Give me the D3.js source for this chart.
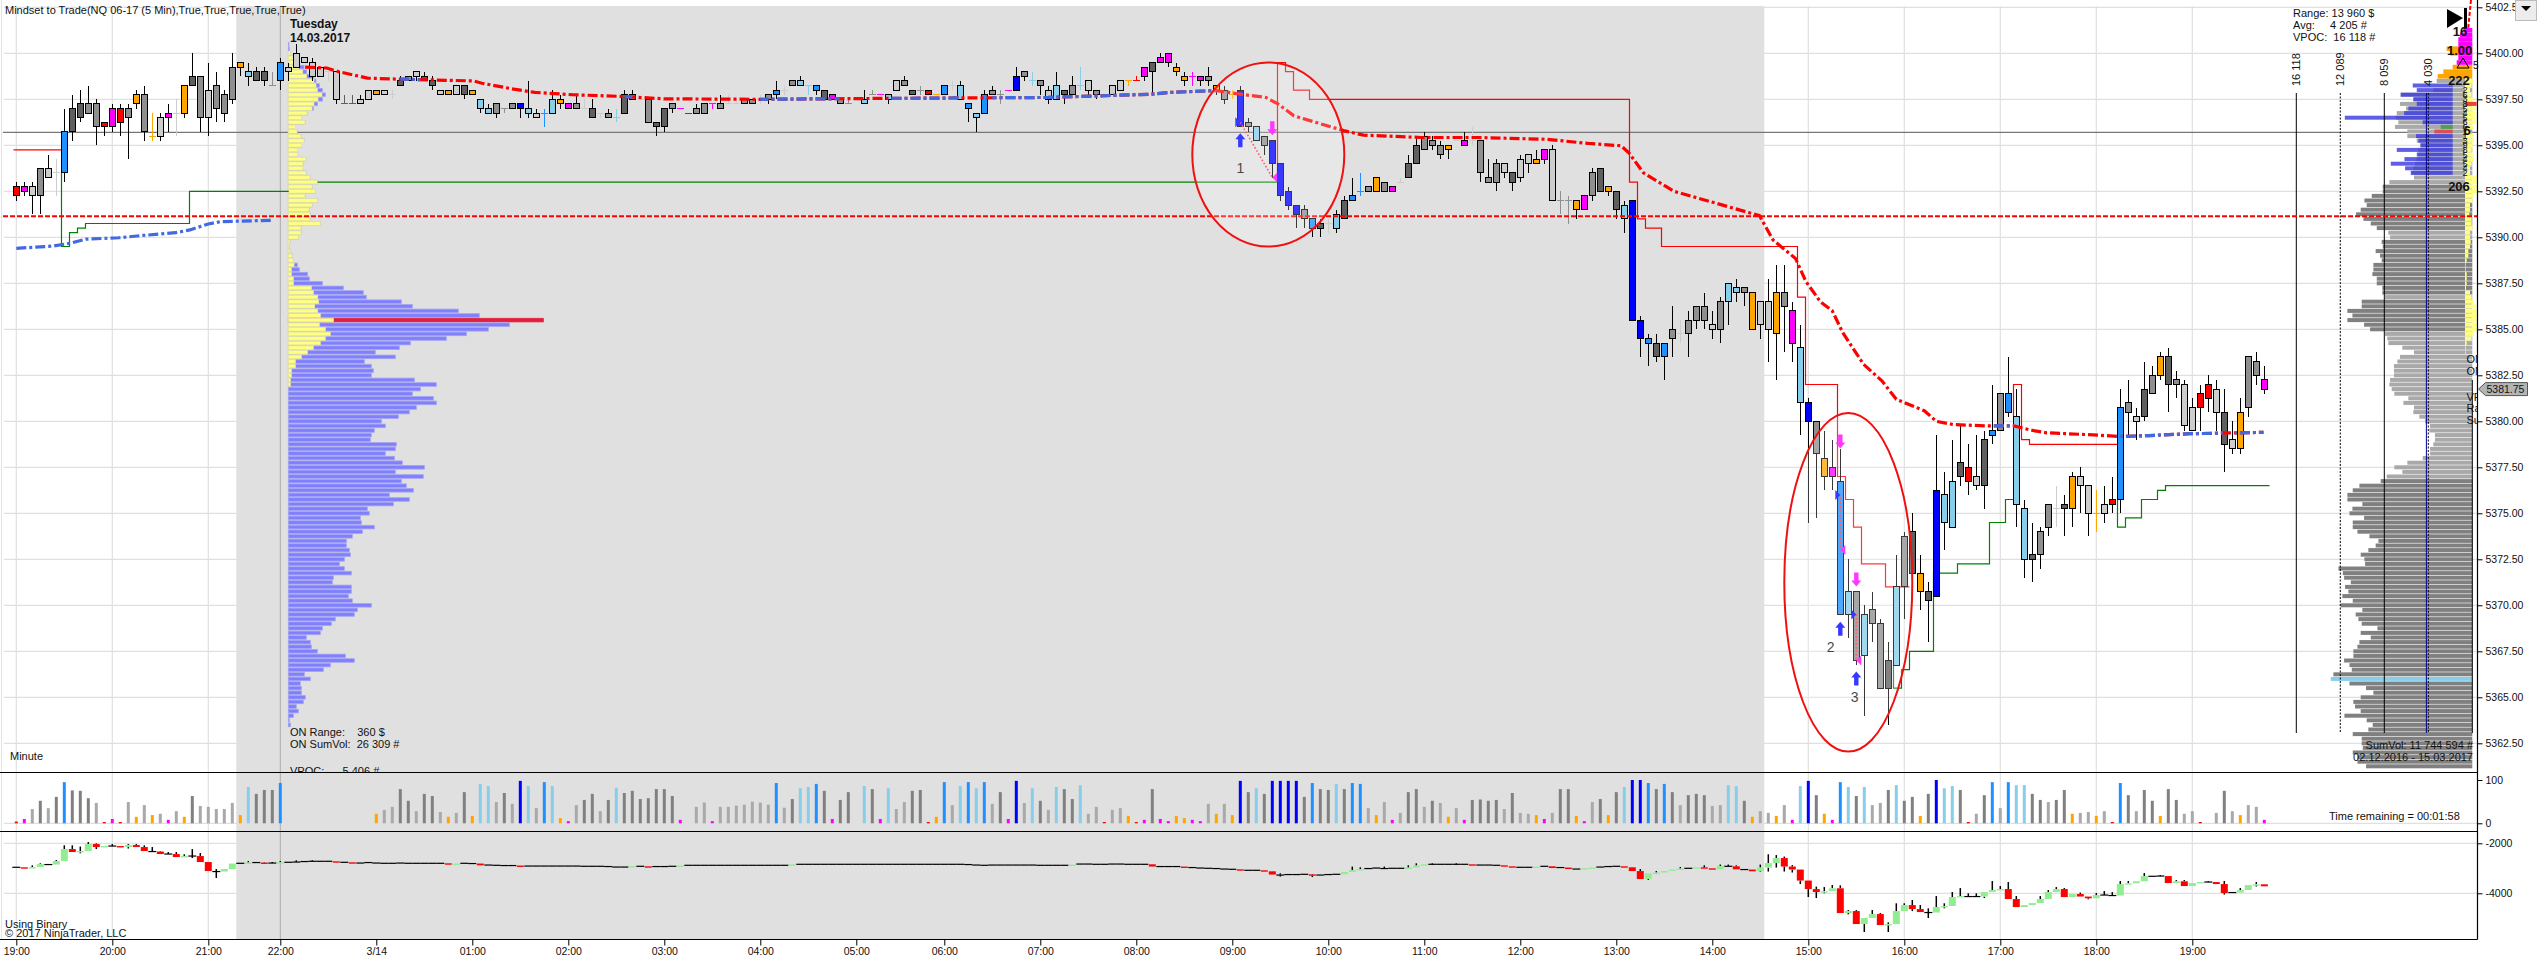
<!DOCTYPE html>
<html>
<head>
<meta charset="utf-8">
<title>Mindset to Trade</title>
<script src="https://cdn.jsdelivr.net/npm/d3@7"></script>
<style>
  body { margin: 0; background: #fff; overflow: hidden; }
  svg { display: block; }
  text { font-family: "Liberation Sans", Arial, sans-serif; font-size: 10.5px; fill: #111; white-space: pre; }
  .axis path, .axis line { stroke: #000; }
  .axis .domain { display: none; }
</style>
</head>
<body>
<svg id="chart" width="2537" height="962"></svg>
<script>
// all prices are kept as ticks below REF_PRICE
const REF_PRICE = 5400;
const TICK_SIZE = 0.25;

// candles, one value per 5 min bar. classes: B blue, D dodger, S sky, O orange, M magenta, R red, K/G/L greys
const candleClass = ("RMLGLLDKKG GRMRGOGOLM LOKGLGGGOS KKGDLLLLLL LKKLLOLLKG LKKLOLKOSS GGGBSLDSOM GLKLGSKGLG " +
  "KKGMRGGMGL LGGLGDLGSS DKMGGGSGMS LGKGRODLSD SDGGMBGSGL SKGSLGOLLO RMKMMOOMMG OGOBGSGBBB " +
  "BGDKLSKDDG OGMLKKGGGO LMLGGGLKLL OMLGGOMGKO KSBBDKDGLG GGLGSSGOLL OGMSBGOMDS GSGGKSGKOK " +
  "BSSKRLKDGD SSKGGLKOLL OLRDGLKGOK GLLRRLKLOG GM").replace(/ /g, "").split("");
const candleTop = [
  29,29,29,25,25,26,17,12,11,11, 11,15,12,12,12,9,9,18,14,13, 13,7,5,5,8,7,9,3,2,4,
  4,4,7,2,3,0,1,2,3,4, 4,11,11,10,8,8,8,9,6,5, 4,5,6,8,8,7,7,8,10,12,
  11,12,11,11,12,13,13,10,10,11, 11,12,12,13,13,14,9,9,10,10, 15,12,11,12,13,12,11,11,11,11,
  11,10,10,10,9,8,8,6,6,7, 7,8,9,10,11,10,10,9,9,9, 6,6,8,8,8,9,7,7,7,11,
  13,9,8,9,8,5,4,6,6,8, 7,8,7,7,6,8,9,7,6,6, 6,3,2,1,0,3,5,5,5,5,
  7,8,9,8,15,16,18,19,24,30, 33,34,36,37,37,35,32,31,30,29, 27,28,29,28,24,20,18,19,20,20,
  19,19,19,19,27,24,24,26,23,22, 23,21,21,32,32,32,31,26,25,29, 30,33,32,58,62,63,63,60,61,58,
  55,55,59,54,50,51,51,52,54,54, 52,52,56,64,76,80,88,90,93,117, 117,122,121,124,132,116,105,104,113,117,
  95,96,93,89,90,92,84,82,74,74, 79,99,109,104,98,99,98,92,92,94, 100,98,97,77,76,79,73,70,66,66,
  71,72,77,74,72,73,78,84,78,66, 67,71];
const candleBottom = [
  31,30,31,31,27,26,26,17,14,13, 16,16,16,15,14,11,17,18,18,14, 13,13,7,14,14,12,13,10,3,5,
  6,6,7,6,4,3,2,5,5,4, 10,11,11,11,10,9,9,9,7,6, 5,6,7,9,9,9,9,9,12,13,
  13,12,12,12,13,14,13,13,11,12, 12,12,14,13,14,14,13,10,10,15, 16,16,12,12,13,13,13,11,12,11,
  11,11,11,10,10,9,8,7,7,7, 8,10,10,11,11,10,11,9,9,10, 8,7,9,8,9,9,9,7,10,12,
  14,13,9,9,8,8,5,6,7,10, 10,9,9,7,8,9,9,9,8,6, 6,5,4,2,2,4,6,5,6,6,
  8,10,9,16,16,19,20,24,31,33, 35,36,38,38,37,38,36,32,30,30, 30,30,30,28,27,24,21,20,22,21,
  19,20,19,26,28,28,26,28,27,24, 24,23,32,32,32,34,34,31,30,30, 34,36,58,62,63,66,66,62,61,61,
  58,58,60,60,54,52,52,60,59,60, 61,55,63,76,80,87,92,92,122,122, 132,131,124,138,138,133,116,113,117,119,
  118,102,103,92,93,94,94,83,82,78, 98,110,110,109,103,99,99,99,94,100, 100,100,98,97,78,80,79,74,70,72,
  72,81,82,77,75,78,85,86,86,77, 70,73];
const candleHigh = [
  28,28,28,25,22,23,12,9,8,7, 10,15,11,11,11,8,7,13,13,11, 10,7,0,5,2,4,8,0,2,2,
  3,3,4,1,2,-2,1,1,3,4, 4,9,9,9,8,8,8,8,5,5, 4,4,5,8,8,7,7,8,10,11,
  11,12,11,11,6,12,12,8,9,11, 9,10,10,13,12,12,8,8,10,10, 15,12,11,12,13,11,11,11,9,9,
  10,10,10,9,9,6,7,6,5,7, 7,8,9,10,10,10,8,8,9,9, 6,5,8,7,8,9,7,6,6,11,
  13,8,7,8,8,3,4,4,6,7, 4,8,5,3,6,8,9,7,6,6, 5,3,2,0,0,2,4,4,5,3,
  7,7,8,7,14,16,18,19,24,29, 33,33,36,36,36,34,31,27,26,29, 27,28,29,27,22,18,17,18,19,20,
  19,17,16,19,23,23,24,26,22,22, 21,21,20,30,31,32,31,25,25,29, 30,32,32,57,61,61,63,55,58,56,
  55,52,56,53,50,49,51,52,54,49, 46,46,54,59,75,80,82,84,86,110, 117,120,117,123,128,109,104,100,109,115,
  83,91,84,81,85,83,82,72,74,66, 73,97,102,103,98,94,96,91,90,94, 95,94,92,73,71,77,67,68,65,64,
  69,71,75,72,70,71,73,80,75,66, 65,68];
const candleLow = [
  32,31,35,35,27,31,28,19,15,13, 20,18,17,18,23,12,19,19,19,17, 18,14,7,17,18,15,15,11,5,7,
  6,7,7,8,6,3,2,6,5,6, 11,11,11,11,10,9,9,10,7,6, 6,6,8,9,9,9,10,9,13,13,
  14,13,12,14,14,14,16,13,12,12, 12,12,14,14,14,15,13,10,10,15, 18,17,13,12,13,13,13,12,12,11,
  11,11,11,11,11,10,9,7,7,9, 9,10,10,11,11,10,11,9,9,11, 8,7,9,9,9,9,9,8,10,15,
  17,13,9,11,8,8,6,7,9,11, 10,11,9,8,9,10,9,9,8,7, 6,6,9,2,3,5,7,7,7,7,
  9,11,10,16,17,19,22,27,32,34, 38,38,40,40,39,39,36,32,31,30, 30,30,30,28,27,24,21,21,23,23,
  19,20,20,28,28,30,27,30,28,26, 24,24,32,35,37,36,34,32,30,31, 36,39,58,66,68,67,71,66,63,66,
  60,60,62,63,59,54,55,60,62,67, 71,65,67,83,102,101,95,95,122,127, 133,144,128,138,146,133,123,113,121,128,
  118,108,103,94,96,95,99,85,82,79, 103,114,115,112,105,103,105,103,100,105, 104,102,100,100,83,84,80,74,71,78,
  75,82,82,82,78,82,91,87,87,79, 72,74];

// volume panel, same bars ("-" = no bar)
const volumeClass = ("RMLKLKDKKK LRMRLOLOLM LOKLLLLLOS KKKD------ -----OLLKK LKKLOLKOSS LKLBSLDSOM LKKLKSKKKK " +
  "KKKM-LLMLL LLLLLDLKSS DKMKK-SKMS LLKKRODLSD SDLKMBLSKL SKKSLLRLLO RMKMMOOMML OLOBKSKBBB " +
  "BKDKKSKDDL OLMLKKLKLO LMKKKKLKLL OMLKKOMLKO KSBBDKDKLK KKLLSSKOLL OLMSBKOMDS KSLLKSKKOK " +
  "BSSKRLKDLD SSKKLKKOLL OLRDKLKKOK KLLR-LKLOL LM").replace(/ /g, "").split("");
const volumeValues = [
  4,10,33,52,35,61,95,76,75,58, 47,3,10,3,49,15,42,19,22,8, 28,15,63,40,38,33,33,47,19,84,
  68,77,77,93,0,0,0,0,0,0, 0,0,0,0,0,22,31,38,79,52, 28,68,63,26,15,24,72,17,91,86,
  49,70,45,98,86,35,95,86,12,5, 42,54,68,28,54,82,70,75,56,58, 79,79,63,8,0,38,48,5,38,38,
  41,43,50,48,43,93,36,56,81,84, 91,75,10,54,72,0,86,79,10,81, 33,49,75,77,3,15,95,42,86,95,
  81,95,45,72,10,98,47,81,52,31, 84,79,56,88,22,38,3,31,35,17, 3,8,79,10,5,17,12,8,5,45,
  22,45,19,98,72,81,68,98,98,98, 98,61,93,79,77,91,79,93,91,35, 19,49,8,24,72,79,38,52,47,15,
  35,8,54,55,52,54,33,70,24,22, 19,10,24,79,79,17,5,49,56,19, 72,84,100,100,93,79,91,72,42,65,
  68,65,40,42,88,86,52,15,28,24, 17,42,8,86,98,65,22,8,95,84, 63,84,42,47,77,88,52,61,17,68,
  100,81,86,77,3,22,65,95,35,95, 88,88,68,54,49,54,77,22,24,26, 17,28,3,93,65,28,77,52,17,79,
  54,22,28,3,0,24,75,28,19,42, 38,8];

// binary panel: each bar opens on the close before it
const binaryClose = [
  -2960,-3010,-2950,-2830,-2850,-2710,-2230,-2350,-2310,-2030, -2150,-2110,-2110,-2150,-2070,-2150,-2310,-2330,-2430,-2430,
  -2550,-2510,-2510,-2750,-3110,-3130,-3030,-2810,-2800,-2770, -2770,-2800,-2790,-2760,-2760,-2750,-2730,-2720,-2720,-2720,
  -2760,-2760,-2790,-2790,-2770,-2790,-2800,-2800,-2790,-2800, -2800,-2800,-2800,-2800,-2840,-2810,-2800,-2810,-2880,-2870,
  -2880,-2890,-2890,-2920,-2910,-2910,-2910,-2910,-2910,-2910, -2910,-2920,-2920,-2920,-2930,-2950,-2950,-2910,-2920,-2950,
  -2930,-2930,-2920,-2890,-2880,-2880,-2880,-2880,-2880,-2880, -2880,-2880,-2880,-2880,-2880,-2880,-2880,-2840,-2840,-2840,
  -2840,-2840,-2840,-2840,-2840,-2840,-2840,-2840,-2840,-2840, -2840,-2840,-2840,-2840,-2840,-2840,-2840,-2840,-2840,-2850,
  -2870,-2880,-2870,-2870,-2870,-2870,-2870,-2870,-2880,-2880, -2880,-2880,-2850,-2830,-2830,-2840,-2840,-2830,-2830,-2840,
  -2840,-2840,-2930,-2930,-2930,-2930,-2960,-2970,-2990,-3000, -3010,-3030,-3040,-3070,-3080,-3080,-3120,-3250,-3270,-3250,
  -3250,-3240,-3280,-3270,-3250,-3240,-3150,-3070,-3030,-3010, -2990,-3010,-3000,-3000,-2970,-2890,-2840,-2840,-2840,-2840,
  -2840,-2840,-2870,-2870,-2870,-2880,-2920,-2950,-2960,-2960, -2930,-2920,-2990,-2970,-3030,-3030,-3000,-2970,-2950,-2930,
  -2920,-2960,-3110,-3430,-3200,-3170,-3110,-3050,-3010,-3000, -2960,-3000,-3040,-2910,-2920,-3040,-3050,-3120,-2970,-2790,
  -2590,-2930,-3050,-3490,-3830,-3950,-3920,-3800,-4790,-4710, -5230,-4990,-4830,-5270,-5230,-4710,-4470,-4630,-4750,-4770,
  -4550,-4510,-4150,-4110,-4130,-4130,-3950,-3870,-3830,-4230, -4550,-4470,-4390,-4230,-3950,-3830,-4150,-4030,-4130,-4200,
  -4070,-4070,-4090,-3630,-3600,-3520,-3310,-3320,-3310,-3590, -3520,-3710,-3590,-3550,-3550,-3630,-3990,-3970,-3870,-3670,
  -3640,-3720];
const binaryUpperWicks = [[2,-2880],[3,-2800],[5,-2670],[6,-2080],[7,-2080],[8,-2130],[9,-1950],[10,-2000],[12,-2030],[14,-2030],
  [15,-2030],[16,-2080],[17,-2150],[18,-2310],[19,-2350],[20,-2350],[21,-2440],[22,-2230],[23,-2390],[25,-3030],[29,-2710],
  [31,-2750],[32,-2750],[33,-2710],[35,-2680],[37,-2680],[158,-3200],[162,-3230],[167,-2930],[168,-2960],[171,-2930],[174,-2880],
  [175,-2800],[177,-2800],[180,-2800],[203,-3030],[205,-3110],[208,-2950],[211,-2880],[213,-2850],[214,-2850],[215,-2880],
  [218,-2850],[219,-2440],[220,-2470],[221,-2530],[222,-2870],[225,-3730],[226,-3750],[227,-3670],[228,-3680],[229,-4670],
  [230,-4670],[232,-4670],[233,-4790],[234,-5160],[235,-4400],[236,-4400],[237,-4270],[238,-4470],[239,-4600],[240,-4110],
  [241,-4400],[242,-3950],[243,-3790],[244,-4000],[245,-4000],[247,-3510],[248,-3710],[249,-3550],[250,-4110],[253,-4110],
  [254,-3870],[255,-3750],[256,-3790],[258,-3970],[260,-3990],[261,-3910],[262,-3950],[263,-3510],[264,-3510],[266,-3190],
  [268,-3270],[270,-3470],[271,-3470],[274,-3510],[276,-3510],[278,-3790],[280,-3550]];
const binaryLowerWicks = [[8,-2400],[10,-2230],[14,-2210],[22,-2590],[25,-3390],[158,-3330],[162,-3350],[204,-3470],[205,-3230],
  [218,-3150],[219,-3130],[220,-2970],[221,-3130],[222,-3170],[223,-3630],[224,-4150],[225,-4190],[226,-4000],[229,-4840],
  [231,-5550],[234,-5550],[237,-4710],[239,-4990],[241,-4600],[246,-4190],[259,-4240],[276,-4050],[280,-3730]];

// hour ticks
const timeTickBars = [0,12,24,33,45,57,69,81,93,105,116,128,140,152,164,176,188,200,212,224,236,248,260,272];
const timeTickLabels = ["19:00","20:00","21:00","22:00","3/14","01:00","02:00","03:00","04:00","05:00","06:00","07:00","08:00",
  "09:00","10:00","11:00","12:00","13:00","14:00","15:00","16:00","17:00","18:00","19:00"];
const priceTicks = d3.range(5362.5, 5403, 2.5);
const volumeTicks = [0, 100];
const binaryTicks = [-2000, -4000];
const sessionStartBar = 33;
const shadedBars = [27.5, 218.5];

// overnight profile, first row is tick -2
const onProfileVolume = [2,3,6,13,28,47,55,77,83,93,102,111,102,87,75,56,40,50,22,26,38,47,40,28,28,53,44,43,53,65,87,71,81,50,87,71,62,65,65,96,
  38,38,30,5,3,5,11,15,27,33,58,63,102,165,225,234,339,372,510,573,765,663,600,534,474,366,333,261,321,228,249,255,249,378,444,396,372,435,444,384,
  363,330,279,291,258,249,246,324,321,291,318,342,408,321,405,339,354,375,303,363,315,237,243,216,219,258,222,192,174,174,183,186,168,153,168,189,
  135,132,189,189,180,192,249,207,198,141,129,102,96,54,66,69,87,171,198,126,105,48,66,36,39,39,51,45,24,30,15,3,6];
// yellow part of it, first row is tick 0
const onProfileYellow = [6,13,22,31,43,55,77,83,87,101,89,77,71,56,40,50,22,26,38,47,40,28,28,53,44,43,53,65,87,71,81,50,87,71,62,65,65,96,38,38,
  30,5,3,5,11,15,17,9,9,15,15,69,75,88,91,79,88,96,135,93,111,126,111,96,75,57,39,21,21,9,9,6,6];
const onPocTick = 58;

// composite profile on the right, first row is tick 6
const compositeVolume = [3260,1890,3570,6560,5400,6620,6070,6920,6980,6770,7080,5950,5950,5090,4790,4940,4940,5090,5250,5400,5550,5340,7590,8200,
  8200,9210,9880,9670,10220,10640,9970,9300,8750,7690,7530,8300,8200,8850,8450,8300,9060,9060,9150,8750,8750,8240,8240,7990,10130,10130,11440,10980,
  11440,9910,9360,7990,7780,7690,6410,5340,6620,6860,7170,7170,7170,7530,7590,7380,7140,5860,6310,5340,5400,4850,4330,3870,3930,3420,3420,3570,3870,
  3870,4540,5950,7140,6410,7840,8390,10340,10950,11440,11440,10070,10980,11250,9910,10950,10950,10520,9420,8600,8850,9520,10220,9880,9820,12260,11860,
  11740,11130,11650,11350,11900,10950,12050,10070,10680,10430,10130,8690,10220,9300,10340,10520,10890,10890,11740,11250,11040,12720,12960,11250,9730,
  9060,10220,10890,10740,10220,11710,9670,9120,9520,10950,10130,10130,10030,10950,10520,10520,9730];
const compositeLightRanges = [[6,28],[39,40],[53,53],[61,92]];
const compositePocTick = 136;
const compositeLevels = [16118, 12089, 8059, 4030];
const compositeLevelLabels = ["16 118", "12 089", "8 059", "4 030"];
const compositeDashed = [false, true, false, true];
const compositeAverage = 4205;
const topMagentaTicks = [-5,-4,-3,-2,-1,0,1,2];
const topMagentaVolume = [820,1130,1280,1280,1280,1280,1280,1430];
const topOrangeTicks = [-1,0,3,4,5];
const topOrangeVolume = [2350,2040,1800,2650,3170];

// current session rows over the composite
const sessionRowTicks = [7,8,9,10,11,12,13,14,15,16,17,18,19,20,21,22,23,24,25,26];
const sessionRowVolume = [3660,3290,4760,3600,3290,4060,4450,9880,2750,1100,1680,3360,3140,2930,5120,3290,4420,5670,4360,3840];
const sessionRowClass = "BBBBBBBBBGRBBBBBBBBB".split("");
// last day rows, first row is tick 6
const lastDayVolume = [27,20,15,20,25,35,33,30,30,33,25,15,25,27,23,20,25,27,20,15,15,35,35,37,37,25,23,15,15,13,
  20,20,23,15,15,17,15,10,10,5,2,2,5,5,5,3,15,20,27,33,35,35,35,37,35,27,20,5,2,2];
const lastDayPocTick = 11;
const smallCountLabels = ["2","6","3","8","5","4","5","6","6","1","1","3","9","8","5","4","5","4","2"];

// stop lines: bar where the step happens and its level
const greenStopLines = [
  { bars: [5,5,6,7,8,21,33.4], ticks: [26,42,39,38,37,30,30] },
  { bars: [37,157], ticks: [28,28] },
  { bars: [234,234,235,236,239,242,246,248,249], ticks: [133,138,134,130,113,111,102,97,97] },
  { bars: [262,262,263,265,267,268,281], ticks: [97,103,101,97,95,94,94] },
];
const redStopLines = [
  { bars: [-1,5], ticks: [21,21] },
  { bars: [157,157,158,159,161,201,202,203,205,222,223,227,228,229,230,233,236], ticks: [28,2,4,8,10,28,36,38,42,53,72,92,97,103,111,116,116] },
  { bars: [249,249,250,251,262], ticks: [79,72,84,85,85] },
];

// dash-dot average lines
const overnightAvgBars = [0,4.6,6.7,8.7,12.8,15.8,19.9,21.7,24,25.5,27.6,31.9];
const overnightAvgTicks = [42.4,41.9,41.3,40.4,40.1,39.6,39,38.4,37.1,36.6,36.5,36.3];
const dayAvgBars = [36.1,38.8,40.3,43.9,47.4,57.1,58.2,62.2,64.8,69.4,76,81,93.3,108.6,129,141.7,144.3,150,153.5,156.2,157.7,159.7,162.8,165.9,168.4,
  175.6,182.7,191.4,196.5,200.6,201.6,203.4,207.2,213.3,217.9,219.6,222.4,223.7,225.5,227,228.3,230.9,233.2,235,238.5,240,242.1,246.2,249.7,251.8,253.8,259,263,266.6,271.7,280.9];
const dayAvgTicks = [3,3.2,4,5.4,5.6,6,6.5,7.8,8.5,9,9.4,9.9,10,9.8,9.6,8.9,8.5,8.1,9,9.6,11,13.6,15.2,16.8,17.8,
  18.3,18.3,18.7,19.6,20.1,21.7,26,30,33,35.3,40.6,44.6,49.6,54,56,60.7,67.6,71.2,75.2,77.7,80,80.7,81,81,81.9,82.5,82.9,83.3,83.1,82.7,82.4];
const dayAvgBlueRanges = [[48,50.5],[76,77],[93,102.9],[109,118],[122,150],[247,249.7],[262.5,275.8],[277.3,281]];

const lastPrice = 5381.75;
const closeLevelPrice = 5395.7;
const dashedLevelPrice = 5391.15;

// trades marked on the chart
const circleBars = [156.5, 229];
const circleTicks = [22, 115];
const circleBarRadius = [9.5, 8];
const circleTickRadius = [20, 36.8];
const upArrowBars = [153, 228, 230];
const upArrowTicks = [17.4, 123.6, 134.4];
const downArrowBars = [157, 228, 230];
const downArrowTicks = [17.8, 85.9, 115.9];
const entryBars = [153, 228, 230];
const entryTicks = [15, 96, 122];
const exitBars = [157, 228, 230];
const exitTicks = [27, 108, 132];
const tradeLabels = ["1", "2", "3"];
const tradeLabelBars = [153, 226.8, 229.8];
const tradeLabelTicks = [25, 129, 140];

const colors = { B: "#0000ff", D: "#1e90ff", S: "#87ceeb", O: "#ffa500", M: "#ff00ff", R: "#ff0000", K: "#5f5f5f", G: "#8f8f8f", L: "#cdcdcd" };
const volumeColors = { ...colors, K: "#808080", L: "#a9a9a9" };

const width = 2537;
const height = 962;
const axisX = 2477.5;
const panels = { priceTop: 6, priceBottom: 772.5, volumeBottom: 831.5, binaryBottom: 939.5 };

const svg = d3.select("#chart");

const x = d3.scaleLinear().domain([0, 281]).range([16.3, 2264.3]);
const y = d3.scaleLinear().domain([5400, 5362.5]).range([53.3, 743.3]);
const yVolume = d3.scaleLinear().domain([0, 100]).range([823.3, 780]);
const yBinary = d3.scaleLinear().domain([-2000, -4000]).range([843.3, 893.3]);
const onWidth = d3.scaleLinear().domain([0, 765]).range([0, 255]);
const compositeWidth = d3.scaleLinear().domain([0, 16118]).range([0, 176]);
const lastDayWidth = d3.scaleLinear().domain([0, 37]).range([0, 12.3]);
const tickY = (t) => y(REF_PRICE - t * TICK_SIZE);
const ROW = Math.abs(tickY(1) - tickY(0));
const STEP_OFFSET = 0.65;
const ON_LEFT = 288.3;
const COMPOSITE_RIGHT = 2472.3;
const SESSION_RIGHT = 2452.7;
const LAST_DAY_LEFT = 2465;

const defs = svg.append("defs");
defs.append("clipPath").attr("id", "inside")
  .append("rect").attr("x", 0).attr("y", 0).attr("width", axisX).attr("height", panels.priceBottom);

// background and grid
svg.append("rect").attr("x", x(shadedBars[0])).attr("y", panels.priceTop)
  .attr("width", x(shadedBars[1]) - x(shadedBars[0])).attr("height", panels.binaryBottom - panels.priceTop).attr("fill", "#e0e0e0");

svg.append("line").attr("x1", 1.5).attr("x2", 1.5).attr("y1", 0).attr("y2", panels.binaryBottom).attr("stroke", "#e4e4e4");
const grid = svg.append("g").attr("stroke", "#e0e0e0").attr("stroke-width", 1.2);
grid.selectAll(".h").data(priceTicks).join("line").attr("x1", 4).attr("x2", axisX)
  .attr("y1", (d) => y(d)).attr("y2", (d) => y(d));
grid.selectAll(".v").data(timeTickBars).join("line").attr("x1", (d) => x(d)).attr("x2", (d) => x(d))
  .attr("y1", panels.priceTop).attr("y2", panels.binaryBottom);
grid.append("line").attr("x1", 4).attr("x2", axisX).attr("y1", yVolume(0)).attr("y2", yVolume(0));
grid.selectAll(".b").data(binaryTicks).join("line").attr("x1", 4).attr("x2", axisX)
  .attr("y1", (d) => yBinary(d)).attr("y2", (d) => yBinary(d));

svg.append("line").attr("x1", x(sessionStartBar)).attr("x2", x(sessionStartBar))
  .attr("y1", panels.priceTop).attr("y2", panels.binaryBottom).attr("stroke", "#aaa");
svg.append("line").attr("x1", 3).attr("x2", axisX).attr("y1", y(closeLevelPrice)).attr("y2", y(closeLevelPrice))
  .attr("stroke", "#777").attr("stroke-width", 1.2);

// overnight profile
const rowGroup = svg.append("g");
rowGroup.selectAll(".on").data(onProfileVolume).join("rect")
  .attr("x", ON_LEFT).attr("y", (d, i) => tickY(i - 2) - ROW / 2 + 0.5)
  .attr("width", (d) => onWidth(d)).attr("height", ROW - 1)
  .attr("fill", (d, i) => (i - 2 === onPocTick ? "#e0203c" : "#8080ff"))
  .attr("stroke", (d, i) => (i - 2 === onPocTick ? "#e0203c" : "#a4a4f2")).attr("stroke-width", 0.8);
rowGroup.selectAll(".ony").data(onProfileYellow).join("rect")
  .attr("x", ON_LEFT).attr("y", (d, i) => tickY(i) - ROW / 2 + 0.5)
  .attr("width", (d) => onWidth(d)).attr("height", ROW - 1)
  .attr("fill", "#ffff80").attr("stroke", "#e8e8a0").attr("stroke-width", 0.8);

// composite profile
const isLight = (t) => compositeLightRanges.some((r) => t >= r[0] && t <= r[1]);
const compRows = svg.append("g");
compRows.selectAll(".o").data(topOrangeVolume).join("rect")
  .attr("x", (d) => COMPOSITE_RIGHT - compositeWidth(d)).attr("y", (d, i) => tickY(topOrangeTicks[i]) - ROW / 2)
  .attr("width", (d) => compositeWidth(d)).attr("height", ROW).attr("fill", "#ffa500");
compRows.selectAll(".m").data(topMagentaVolume).join("rect")
  .attr("x", (d) => COMPOSITE_RIGHT - compositeWidth(d)).attr("y", (d, i) => tickY(topMagentaTicks[i]) - ROW / 2)
  .attr("width", (d) => compositeWidth(d)).attr("height", ROW).attr("fill", "#ff00ff");
compRows.selectAll(".c").data(compositeVolume).join("rect")
  .attr("x", (d) => COMPOSITE_RIGHT - compositeWidth(d)).attr("y", (d, i) => tickY(i + 6) - ROW / 2 + 0.3)
  .attr("width", (d) => compositeWidth(d)).attr("height", ROW - 0.6)
  .attr("fill", (d, i) => (i + 6 === compositePocTick ? "#87ceeb" : isLight(i + 6) ? "#a9a9a9" : "#808080"));
compRows.selectAll(".s").data(sessionRowVolume).join("rect")
  .attr("x", (d) => SESSION_RIGHT - compositeWidth(d)).attr("y", (d, i) => tickY(sessionRowTicks[i]) - ROW / 2 + 0.3)
  .attr("width", (d) => compositeWidth(d)).attr("height", ROW - 0.6)
  .attr("fill", (d, i) => ({ B: "#3c3ce0", G: "#3f9a3f", R: "#e04040" }[sessionRowClass[i]]))
  .attr("opacity", 0.82);
compRows.selectAll(".y").data(lastDayVolume).join("rect")
  .attr("x", LAST_DAY_LEFT).attr("y", (d, i) => tickY(i + 6) - ROW / 2 + 0.3)
  .attr("width", (d) => lastDayWidth(d)).attr("height", ROW - 0.6)
  .attr("fill", (d, i) => (i + 6 === lastDayPocTick ? "#f04030" : "#ffff80"));

const levelTop = 93;
const levelBottom = 733;
compRows.selectAll(".lvl").data(compositeLevels).join("line")
  .attr("x1", (d) => COMPOSITE_RIGHT - compositeWidth(d)).attr("x2", (d) => COMPOSITE_RIGHT - compositeWidth(d))
  .attr("y1", levelTop).attr("y2", levelBottom).attr("stroke", "#000")
  .attr("stroke-dasharray", (d, i) => (compositeDashed[i] ? "2 1.5" : null));
compRows.append("line").attr("x1", COMPOSITE_RIGHT - compositeWidth(compositeAverage)).attr("x2", COMPOSITE_RIGHT - compositeWidth(compositeAverage))
  .attr("y1", levelTop).attr("y2", levelBottom).attr("stroke", "#00008b");
compRows.append("line").attr("x1", COMPOSITE_RIGHT).attr("x2", COMPOSITE_RIGHT).attr("y1", 380).attr("y2", levelBottom).attr("stroke", "#000");
svg.selectAll(".lvlText").data(compositeLevelLabels).join("text")
  .style("font-size", "11px")
  .attr("transform", (d, i) => `translate(${COMPOSITE_RIGHT - compositeWidth(compositeLevels[i]) + 4},86) rotate(-90)`)
  .text((d) => d);

// stop lines
const stopPath = d3.line().x((d) => x(d[0] + STEP_OFFSET)).y((d) => tickY(d[1])).curve(d3.curveStepAfter);
const drawStops = (lines, color) => {
  svg.append("g").selectAll("path").data(lines).join("path")
    .attr("d", (l) => stopPath(l.bars.map((b, i) => [b, l.ticks[i]])))
    .attr("fill", "none").attr("stroke", color).attr("stroke-width", 1.2);
};
drawStops(greenStopLines, "#008000");
drawStops(redStopLines, "#ff0000");

// average lines
const avgPath = d3.line().x((d) => x(d[0])).y((d) => tickY(d[1]));
const avgDash = "10 3 3 3";
const avgStroke = 3.2;
const onAvg = overnightAvgBars.map((b, i) => [b, overnightAvgTicks[i]]);
const dayAvg = dayAvgBars.map((b, i) => [b, dayAvgTicks[i]]);
svg.append("path").attr("d", avgPath(onAvg)).attr("fill", "none").attr("stroke", "#4169e1")
  .attr("stroke-width", avgStroke).attr("stroke-dasharray", avgDash);
const blueClip = defs.append("clipPath").attr("id", "avgBlue");
blueClip.selectAll("rect").data(dayAvgBlueRanges).join("rect")
  .attr("x", (d) => x(d[0])).attr("width", (d) => x(d[1]) - x(d[0])).attr("y", 0).attr("height", height);

// candles
const bars = d3.range(candleClass.length);
const candles = svg.append("g").selectAll("g").data(bars).join("g").attr("shape-rendering", "crispEdges");
candles.append("line")
  .attr("x1", (i) => x(i)).attr("x2", (i) => x(i))
  .attr("y1", (i) => tickY(candleHigh[i])).attr("y2", (i) => tickY(candleLow[i]))
  .attr("stroke", (i) => (candleTop[i] === candleBottom[i] ? colors[candleClass[i]] : "#000"));
candles.filter((i) => candleTop[i] === candleBottom[i]).append("line")
  .attr("x1", (i) => x(i) - 3.5).attr("x2", (i) => x(i) + 3.5)
  .attr("y1", (i) => tickY(candleTop[i])).attr("y2", (i) => tickY(candleTop[i]))
  .attr("stroke", (i) => colors[candleClass[i]]);
candles.filter((i) => candleTop[i] !== candleBottom[i]).append("rect")
  .attr("x", (i) => x(i) - 3).attr("width", 6)
  .attr("y", (i) => tickY(candleTop[i])).attr("height", (i) => tickY(candleBottom[i]) - tickY(candleTop[i]))
  .attr("fill", (i) => colors[candleClass[i]]).attr("stroke", "#000");

// the day average runs over the candles, blue parts on top of the red
svg.append("path").attr("d", avgPath(dayAvg)).attr("fill", "none").attr("stroke", "#ff0000")
  .attr("stroke-width", avgStroke).attr("stroke-dasharray", avgDash);
svg.append("path").attr("d", avgPath(dayAvg)).attr("fill", "none").attr("stroke", "#4169e1")
  .attr("stroke-width", avgStroke).attr("stroke-dasharray", avgDash).attr("clip-path", "url(#avgBlue)");

svg.append("line").attr("x1", 3).attr("x2", axisX).attr("y1", y(dashedLevelPrice)).attr("y2", y(dashedLevelPrice))
  .attr("stroke", "#ff0000").attr("stroke-width", 2).attr("stroke-dasharray", "5 2");

// trade marks
const trades = svg.append("g");
entryBars.forEach((b, i) => {
  trades.append("line").attr("x1", x(b)).attr("y1", tickY(entryTicks[i])).attr("x2", x(exitBars[i])).attr("y2", tickY(exitTicks[i]))
    .attr("stroke", "#ff3040").attr("stroke-width", 1.6).attr("stroke-dasharray", "1.6 2");
  trades.append("path").attr("transform", `translate(${x(b)},${tickY(entryTicks[i])})`)
    .attr("d", "M-5,-5L0,0L-5,5Z").attr("fill", "#0000ff");
  trades.append("path").attr("transform", `translate(${x(exitBars[i])},${tickY(exitTicks[i])})`)
    .attr("d", "M5,-5L0,0L5,5Z").attr("fill", "#ff00ff");
  trades.append("path").attr("transform", `translate(${x(upArrowBars[i])},${tickY(upArrowTicks[i])})`)
    .attr("d", "M0,0L5,6L2.2,6L2.2,14L-2.2,14L-2.2,6L-5,6Z").attr("fill", "#0000ff");
  trades.append("path").attr("transform", `translate(${x(downArrowBars[i])},${tickY(downArrowTicks[i])})`)
    .attr("d", "M0,0L5,-6L2.2,-6L2.2,-14L-2.2,-14L-2.2,-6L-5,-6Z").attr("fill", "#ff00ff");
  trades.append("text").attr("x", x(tradeLabelBars[i])).attr("y", tickY(tradeLabelTicks[i]) + 5)
    .attr("text-anchor", "middle").style("font-size", "14px").text(tradeLabels[i]);
});
svg.append("g").selectAll("ellipse").data(circleBars).join("ellipse")
  .attr("cx", (d) => x(d)).attr("cy", (d, i) => tickY(circleTicks[i]))
  .attr("rx", (d, i) => x(circleBarRadius[i]) - x(0)).attr("ry", (d, i) => circleTickRadius[i] * ROW)
  .attr("fill", "#fff").attr("fill-opacity", 0.22).attr("stroke", "#f01010").attr("stroke-width", 2);

// volume panel
svg.append("g").selectAll("rect").data(bars.filter((i) => volumeValues[i] > 0)).join("rect")
  .attr("x", (i) => x(i) - 1.5).attr("width", 3)
  .attr("y", (i) => yVolume(volumeValues[i])).attr("height", (i) => yVolume(0) - yVolume(volumeValues[i]))
  .attr("fill", (i) => volumeColors[volumeClass[i]]);

// binary panel
const binaryOpen = (i) => (i === 0 ? binaryClose[0] : binaryClose[i - 1]);
const isFlat = (i) => Math.abs(binaryClose[i] - binaryOpen(i)) <= 20;
const binary = svg.append("g");
binary.selectAll(".up").data(binaryUpperWicks).join("line")
  .attr("x1", (d) => x(d[0])).attr("x2", (d) => x(d[0])).attr("stroke", "#000").attr("stroke-width", 1.5)
  .attr("y1", (d) => yBinary(d[1])).attr("y2", (d) => yBinary(Math.max(binaryClose[d[0]], binaryOpen(d[0]))));
binary.selectAll(".down").data(binaryLowerWicks).join("line")
  .attr("x1", (d) => x(d[0])).attr("x2", (d) => x(d[0])).attr("stroke", "#000").attr("stroke-width", 1.5)
  .attr("y1", (d) => yBinary(d[1])).attr("y2", (d) => yBinary(Math.min(binaryClose[d[0]], binaryOpen(d[0]))));
binary.selectAll(".body").data(bars.filter((i) => !isFlat(i))).join("rect")
  .attr("x", (i) => x(i) - 3.5).attr("width", 7)
  .attr("y", (i) => Math.min(yBinary(binaryOpen(i)), yBinary(binaryClose[i])))
  .attr("height", (i) => Math.max(1.4, Math.abs(yBinary(binaryOpen(i)) - yBinary(binaryClose[i]))))
  .attr("fill", (i) => (binaryClose[i] > binaryOpen(i) ? "#90ee90" : "#ff0000"));
binary.selectAll(".flat").data(bars.filter(isFlat)).join("rect")
  .attr("x", (i) => x(i) - 4).attr("width", 8).attr("y", (i) => yBinary(binaryClose[i]) - 0.6).attr("height", 1.2).attr("fill", "#000");

// panel lines and axes
svg.append("line").attr("x1", axisX).attr("x2", axisX).attr("y1", 0).attr("y2", panels.binaryBottom).attr("stroke", "#000").attr("stroke-width", 1.2);
[panels.priceBottom, panels.volumeBottom, panels.binaryBottom].forEach((py) => {
  svg.append("line").attr("x1", 0).attr("x2", axisX).attr("y1", py).attr("y2", py).attr("stroke", "#000").attr("stroke-width", 1.2);
});

const priceAxis = d3.axisRight(y).tickValues(priceTicks).tickFormat((d) => d.toFixed(2)).tickSize(5).tickPadding(3);
svg.append("g").attr("class", "axis").attr("transform", `translate(${axisX},0)`).call(priceAxis);
const volumeAxis = d3.axisRight(yVolume).tickValues(volumeTicks).tickSize(5).tickPadding(3);
svg.append("g").attr("class", "axis").attr("transform", `translate(${axisX},0)`).call(volumeAxis);
const binaryAxis = d3.axisRight(yBinary).tickValues(binaryTicks).tickFormat((d) => d).tickSize(5).tickPadding(3);
svg.append("g").attr("class", "axis").attr("transform", `translate(${axisX},0)`).call(binaryAxis);
const timeAxis = d3.axisBottom(x).tickValues(timeTickBars).tickFormat((d, i) => timeTickLabels[i]).tickSize(6).tickPadding(2);
svg.append("g").attr("class", "axis").attr("transform", `translate(0,${panels.binaryBottom})`).call(timeAxis);

// last price flag
const flag = svg.append("g").attr("transform", `translate(${axisX},${y(lastPrice)})`);
flag.append("path").attr("d", "M1,0L8,-6.5L50,-6.5L50,6.5L8,6.5Z").attr("fill", "#b4b4b4").attr("stroke", "#555");
flag.append("text").attr("x", 9).attr("y", 3.8).text(lastPrice.toFixed(2));

// corner button
svg.append("rect").attr("x", 2515.5).attr("y", 0.5).attr("width", 21).attr("height", 20).attr("fill", "#ececec").attr("stroke", "#bbb");
svg.append("path").attr("d", "M2521,6L2531,6L2526,11Z").attr("fill", "#000");

// texts
const label = (tx, ty, str, opts = {}) => {
  const t = svg.append("text").attr("x", tx).attr("y", ty).text(str).style("font-size", (opts.size || 11) + "px");
  if (opts.bold) t.style("font-weight", "bold");
  if (opts.anchor) t.attr("text-anchor", opts.anchor);
  if (opts.clip) t.attr("clip-path", "url(#inside)");
  return t;
};
label(5, 14, "Mindset to Trade(NQ 06-17 (5 Min),True,True,True,True,True)");
label(290, 28, "Tuesday", { bold: true, size: 12 });
label(290, 42, "14.03.2017", { bold: true, size: 12 });
label(290, 736, "ON Range:    360 $");
label(290, 748, "ON SumVol:  26 309 #");
label(290, 775, "VPOC:      5 406 #", { clip: true });
label(10, 760, "Minute");
label(5, 928, "Using Binary");
label(5, 937, "\u00a9 2017 NinjaTrader, LLC");
label(2329, 820, "Time remaining = 00:01:58");
label(2293, 17, "Range: 13 960 $");
label(2293, 29, "Avg:     4 205 #");
label(2293, 41, "VPOC:  16 118 #");
label(2473, 749, "SumVol: 11 744 594 #", { anchor: "end" });
label(2473, 761, "02.12.2016 - 15.03.2017", { anchor: "end" });

// labels of the other profiles, cut by the axis
[[363, "ON"], [375, "ON"], [401, "VP"], [412, "Ra"], [424, "Su"]].forEach((d) => {
  label(2466.5, d[0], d[1], { clip: true });
});

// session counters on top of the profile
svg.append("path").attr("d", "M2447,9L2463,18L2447,28Z").attr("fill", "#000");
svg.append("rect").attr("x", 2464).attr("y", 8).attr("width", 3).attr("height", 20).attr("fill", "#000");
svg.append("path").attr("d", "M2471,0L2468,30").attr("fill", "none").attr("stroke", "#ff0000").attr("stroke-width", 2).attr("stroke-dasharray", "4 2");
label(2460, 36, "16", { bold: true, size: 13, anchor: "middle" });
label(2447, 55, "1.00", { bold: true, size: 13 });
label(2473, 69, "5", { size: 10 });
svg.append("path").attr("d", "M2463,58L2469,68L2457,68Z").attr("fill", "none").attr("stroke", "#000");
label(2459, 85, "222", { bold: true, size: 13, anchor: "middle" });
label(2459, 191, "206", { bold: true, size: 13, anchor: "middle" });
label(2467, 135, "6", { bold: true, size: 13, anchor: "middle" });
smallCountLabels.forEach((s, i) => label(2465, tickY(i + 8) + 3, s, { size: 9, anchor: "middle" }));
</script>
</body>
</html>
